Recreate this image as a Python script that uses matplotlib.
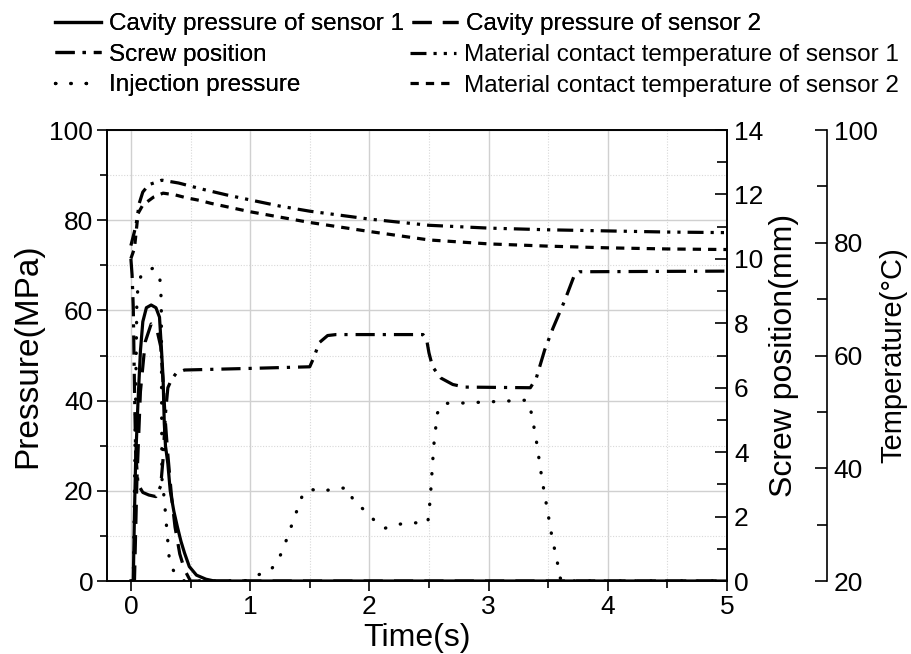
import matplotlib.pyplot as plt
from matplotlib.ticker import MultipleLocator

plt.rcParams['font.family'] = ['Liberation Sans', 'DejaVu Sans']

# cavity pressure sensor 1 (MPa)
t_cav1 = [0, 0.02, 0.03, 0.04, 0.06, 0.08, 0.10, 0.13, 0.17, 0.21, 0.24, 0.255, 0.27, 0.28,
          0.29, 0.31, 0.33, 0.36, 0.39, 0.42, 0.45, 0.49, 0.55, 0.63, 0.70, 5.0]
cav1 = [0, 0, 15, 27, 40, 51, 57.5, 60.6, 61.2, 60.6, 58.5, 52, 45, 35,
        30, 26, 20, 15.5, 12, 8.8, 6.2, 3.2, 1.3, 0.4, 0, 0]

# cavity pressure sensor 2 (MPa)
t_cav2 = [0, 0.03, 0.05, 0.08, 0.12, 0.17, 0.22, 0.25, 0.27, 0.29, 0.31, 0.34, 0.37,
          0.41, 0.45, 0.50, 5.0]
cav2 = [0, 0, 22, 42, 53, 57, 55.5, 52, 44, 35, 28, 19, 12, 6, 2.5, 0, 0]

# screw position (mm)
t_screw = [0, 0.01, 0.02, 0.03, 0.04, 0.06, 0.10, 0.15, 0.21, 0.25, 0.27, 0.29, 0.31, 0.34,
           0.38, 0.45, 1.0, 1.5, 1.53, 1.58, 1.65, 1.72, 2.45, 2.48, 2.5, 2.53, 2.6, 2.7,
           2.8, 3.35, 3.4, 3.47, 3.54, 3.64, 3.72, 3.76, 5.0]
screw = [10.0, 9.5, 8.5, 6.0, 4.0, 3.0, 2.75, 2.67, 2.62, 2.95, 3.8, 5.2, 6.0, 6.25,
         6.45, 6.55, 6.6, 6.65, 6.9, 7.4, 7.62, 7.65, 7.65, 7.5, 7.08, 6.65, 6.3, 6.1,
         6.02, 6.0, 6.3, 7.17, 7.85, 8.72, 9.5, 9.6, 9.62]

# injection pressure (MPa)
t_inj = [0, 0.02, 0.03, 0.05, 0.06, 0.09, 0.18, 0.24, 0.25, 0.255, 0.26, 0.28, 0.29, 0.30,
         0.31, 0.32, 0.345, 0.40, 0.45, 0.95, 1.0, 1.07, 1.16, 1.23, 1.28, 1.32, 1.36, 1.40,
         1.44, 1.50, 1.60, 1.72, 1.82, 1.87, 1.96, 2.04, 2.13, 2.25, 2.37, 2.49, 2.51, 2.54,
         2.57, 2.62, 2.73, 3.32, 3.36, 3.40, 3.45, 3.49, 3.53, 3.58, 3.60, 3.62, 5.0]
inj = [0, 0, 20, 62, 65.3, 68.2, 69.3, 68, 64.7, 61.7, 22.8, 18.2, 15, 11.8,
       8.7, 5.5, 2.8, 0.7, 0, 0, 0.4, 1.4, 2.1, 4.3, 7.3, 10.3, 13.2, 16.2,
       19.1, 20.4, 19.8, 20.6, 20.6, 17.6, 15.7, 13.5, 11.7, 12.6, 12.9, 12.9, 18, 30,
       37.2, 39.4, 39.4, 40.1, 37.2, 31.2, 22.2, 16.2, 10.0, 3.7, 0.7, 0, 0]

# material contact temperature (degC)
t_temp1 = [0, 0.03, 0.05, 0.07, 0.10, 0.15, 0.26, 0.40, 0.60, 0.80, 1.0, 1.25, 1.5, 1.75,
           2.0, 2.5, 3.0, 3.5, 4.0, 4.5, 5.0]
temp1 = [79.5, 82, 84, 87, 89, 90.3, 91.1, 90.6, 89.5, 88.5, 87.6, 86.5, 85.6, 84.9,
         84.2, 83.1, 82.6, 82.3, 82.1, 81.9, 81.8]
t_temp2 = [0, 0.03, 0.06, 0.10, 0.19, 0.27, 0.37, 0.46, 0.58, 0.67, 1.0, 1.5, 2.0, 2.5,
           3.0, 3.5, 4.0, 4.5, 5.0]
temp2 = [77.2, 79, 85.2, 86.7, 88.1, 88.8, 88.5, 88, 87.5, 87, 85.5, 83.6, 82, 80.5,
         79.8, 79.4, 79.1, 78.9, 78.8]

labels = ['Cavity pressure of sensor 1', 'Cavity pressure of sensor 2', 'Screw position',
          'Material contact temperature of sensor 1', 'Injection pressure',
          'Material contact temperature of sensor 2']

lw = 2.3
st_cav2 = (0, (6, 3.5))
st_screw = (0, (6, 2.5, 1, 2.5))
st_temp1 = (0, (5, 2.2, 1, 2.2, 1, 2.2))
st_temp2 = (0, (2.6, 2.2))
st_inj = (0, (0.1, 4.5))

fig = plt.figure(figsize=(9.11, 6.54), dpi=100)
ax = fig.add_axes([0.1175, 0.1116, 0.6806, 0.6896])
ax2 = ax.twinx()
ax3 = ax.twinx()

l_cav1, = ax.plot(t_cav1, cav1, color='black', lw=lw)
l_cav2, = ax.plot(t_cav2, cav2, color='black', lw=lw, linestyle=st_cav2)
l_inj, = ax.plot(t_inj, inj, color='black', lw=2.4, linestyle=st_inj, dash_capstyle='round')
l_screw, = ax2.plot(t_screw, screw, color='black', lw=lw, linestyle=st_screw)
l_t1, = ax3.plot(t_temp1, temp1, color='black', lw=lw, linestyle=st_temp1)
l_t2, = ax3.plot(t_temp2, temp2, color='black', lw=lw, linestyle=st_temp2)

ax.set_xlim(-0.2, 5)
ax.set_ylim(0, 100)
ax2.set_ylim(0, 14)
ax3.set_ylim(20, 100)

ax.xaxis.set_major_locator(MultipleLocator(1))
ax.xaxis.set_minor_locator(MultipleLocator(0.5))
ax.yaxis.set_major_locator(MultipleLocator(20))
ax.yaxis.set_minor_locator(MultipleLocator(10))
ax2.yaxis.set_major_locator(MultipleLocator(2))
ax2.yaxis.set_minor_locator(MultipleLocator(1))
ax3.yaxis.set_major_locator(MultipleLocator(20))
ax3.yaxis.set_minor_locator(MultipleLocator(10))

ax.grid(which='major', color='#d0d0d0', lw=1.0)
ax.grid(which='minor', color='#d8d8d8', lw=0.8, linestyle=(0, (1, 1.5)))
ax.set_axisbelow(True)

tick_fs = 19
ax.tick_params(which='both', direction='out', labelsize=tick_fs, width=1.2, top=False, right=False)
ax.tick_params(which='major', length=7, pad=3)
ax.tick_params(which='minor', length=5)
for a in (ax2, ax3):
    a.tick_params(which='both', direction='in', labelsize=tick_fs, width=1.2, pad=5)
    a.tick_params(which='major', length=9)
    a.tick_params(which='minor', length=7)

ax3.spines['right'].set_position(('axes', 1.161))
for s in ('top', 'left', 'bottom'):
    ax3.spines[s].set_visible(False)
for a in (ax, ax2, ax3):
    for s in a.spines.values():
        s.set_linewidth(1.2)

ax.set_xlabel('Time(s)', fontsize=23, labelpad=3)
ax.set_ylabel('Pressure(MPa)', fontsize=24, labelpad=4)
ax2.set_ylabel('Screw position(mm)', fontsize=23, labelpad=4)
ax3.set_ylabel('Temperature(\u00b0C)', fontsize=21, labelpad=1)

leg_kw = dict(loc='upper left', frameon=False, fontsize=17.5, handlelength=1.9,
              handletextpad=0.33, borderaxespad=0, borderpad=0, labelspacing=0.35)
W, H = 911.0, 654.0
leg_a = fig.legend([l_cav1, l_screw, l_inj], [labels[0], labels[2], labels[4]],
                   bbox_to_anchor=(55 / W, 1 - 13 / H), **leg_kw)
fig.add_artist(leg_a)
leg_b = fig.legend([l_cav2], [labels[1]], bbox_to_anchor=(412 / W, 1 - 13 / H), **leg_kw)
fig.add_artist(leg_b)
fig.legend([l_t1, l_t2], [labels[3], labels[5]],
           bbox_to_anchor=(410 / W, 1 - 44 / H), **leg_kw)

fig.savefig('out.png', dpi=100)
